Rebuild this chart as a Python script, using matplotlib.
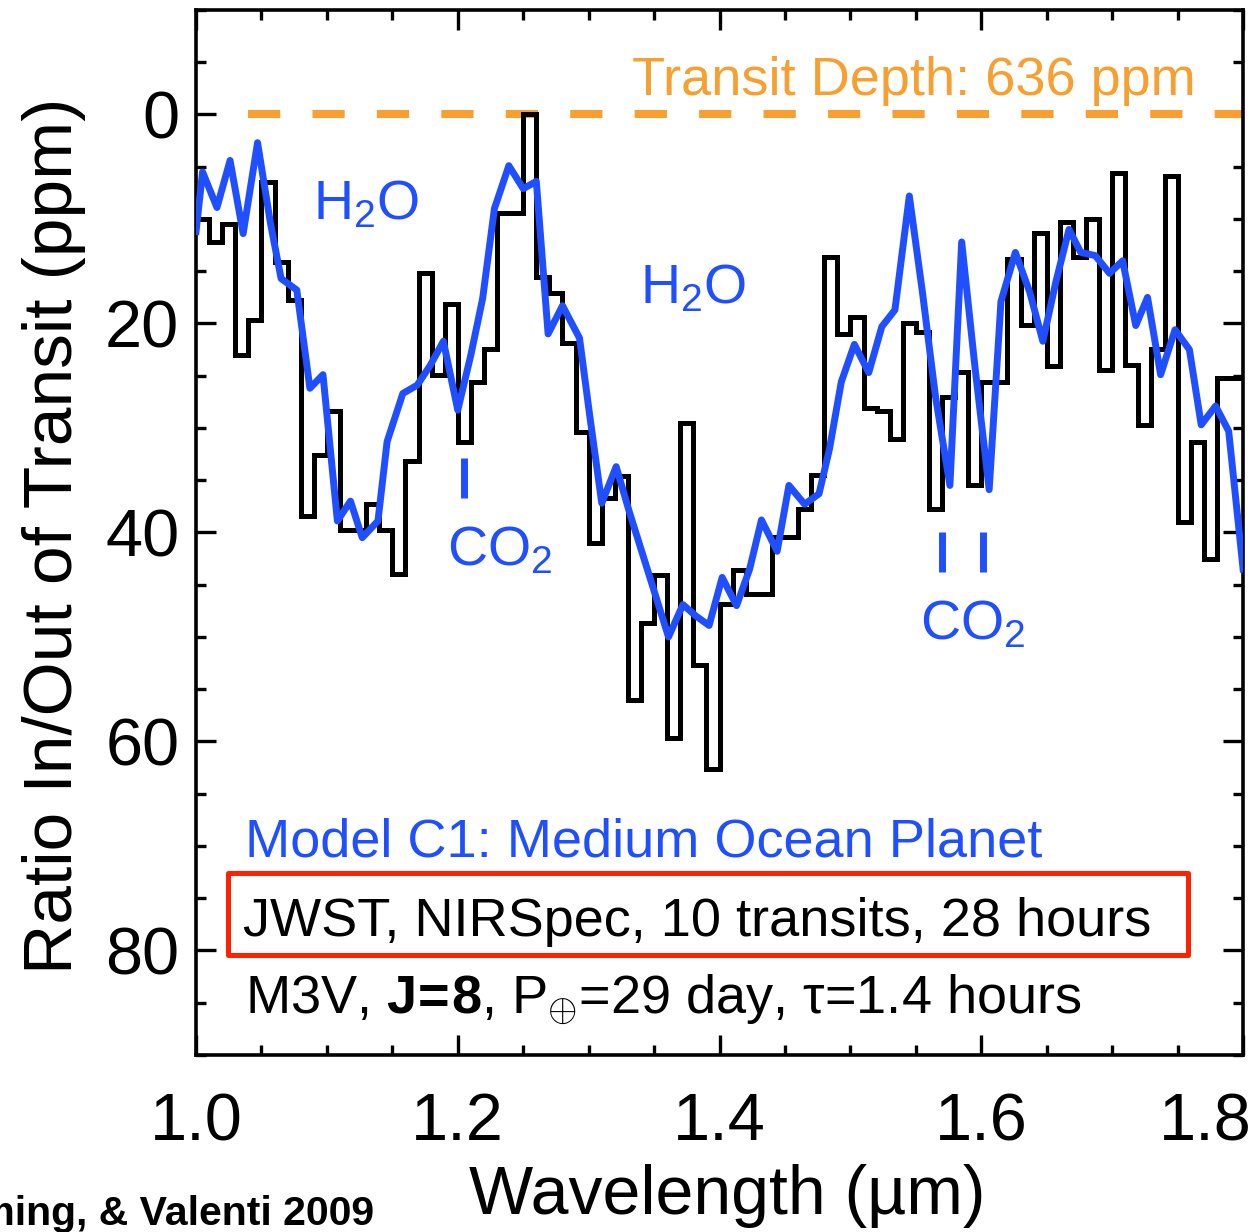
import numpy as np
import matplotlib.pyplot as plt
import matplotlib.transforms as mtransforms
from matplotlib.ticker import MultipleLocator
from matplotlib.patches import Rectangle

plt.rcParams['font.family'] = ['Liberation Sans', 'DejaVu Sans']
plt.rcParams['mathtext.fontset'] = 'custom'
plt.rcParams['mathtext.rm'] = 'Liberation Sans'
plt.rcParams['mathtext.it'] = 'Liberation Sans:italic'
plt.rcParams['mathtext.bf'] = 'Liberation Sans:bold'

# simulated NIRSpec spectrum, 0.01 um bins from 1.00 to 1.80 (ppm below transit depth)
bin_edges = np.round(np.arange(1.00, 1.8001, 0.01), 3)
obs_ppm = [10.0, 12.2, 10.5, 23.0, 19.7, 6.5, 14.1, 17.8, 38.4, 32.6,
           28.4, 39.8, 39.8, 37.3, 39.8, 44.0, 33.2, 15.2, 24.9, 18.1,
           31.3, 25.6, 22.4, 9.4, 9.4, 0.0, 15.6, 17.1, 21.9, 30.4,
           41.0, 36.7, 34.6, 56.0, 48.7, 44.1, 59.7, 29.5, 52.7, 62.6,
           46.8, 43.6, 45.9, 45.9, 40.4, 40.4, 37.8, 34.5, 13.6, 21.0,
           19.4, 28.1, 28.4, 31.1, 20.0, 20.8, 37.8, 27.0, 24.6, 35.5,
           25.6, 25.6, 13.8, 20.1, 11.3, 24.1, 10.3, 13.6, 10.0, 24.5,
           5.6, 24.0, 29.7, 22.4, 5.9, 39.0, 31.3, 42.5, 25.2, 25.2]

# model C1 (medium ocean planet)
model_wl = [1.000, 1.005, 1.016, 1.026, 1.036, 1.047, 1.057, 1.065, 1.077, 1.087,
            1.097, 1.108, 1.118, 1.127, 1.139, 1.146, 1.158, 1.169, 1.179, 1.189,
            1.200, 1.210, 1.219, 1.228, 1.239, 1.250, 1.260, 1.269, 1.280, 1.293,
            1.301, 1.310, 1.321, 1.331, 1.341, 1.351, 1.361, 1.372, 1.382, 1.392,
            1.402, 1.413, 1.423, 1.432, 1.444, 1.453, 1.465, 1.476, 1.484, 1.493,
            1.503, 1.514, 1.524, 1.534, 1.545, 1.555, 1.565, 1.576, 1.585, 1.595,
            1.606, 1.615, 1.626, 1.637, 1.647, 1.657, 1.667, 1.676, 1.687, 1.698,
            1.708, 1.718, 1.727, 1.737, 1.748, 1.759, 1.768, 1.779, 1.789, 1.800]
model_ppm = [11.2, 5.5, 8.9, 4.4, 11.4, 2.7, 10.5, 15.7, 16.8, 26.2,
             24.9, 38.9, 37.0, 40.5, 38.9, 31.3, 26.7, 25.9, 24.0, 21.7,
             28.3, 23.0, 17.6, 9.0, 4.9, 7.1, 6.4, 21.0, 18.3, 21.4,
             29.0, 37.2, 33.7, 38.0, 42.0, 46.0, 50.0, 46.9, 48.0, 48.9,
             44.3, 47.0, 43.5, 38.8, 41.8, 35.5, 37.3, 36.3, 32.0, 25.6,
             22.0, 24.7, 20.3, 18.7, 7.8, 17.0, 27.0, 35.5, 12.2, 24.0,
             35.9, 17.9, 13.2, 17.0, 21.7, 16.0, 11.0, 13.2, 13.5, 15.2,
             14.0, 20.2, 17.5, 24.9, 20.6, 22.5, 29.7, 27.9, 30.3, 43.5]

transit_depth = 636

# CO2 band markers
co2_wl = [1.205, 1.570, 1.601]
co2_top = [32.9, 40.0, 40.0]
co2_bot = [36.7, 43.8, 43.8]

blue = '#1F4FFF'
orange = '#F5A031'

fig = plt.figure(figsize=(12.55, 12.32), dpi=100)
ax = fig.add_axes([0.1562, 0.1437, 0.8343, 0.8482])

ax.axhline(0, xmin=0.05, color=orange, lw=5.8, linestyle=(0, (4, 4)), zorder=2)
ax.stairs(obs_ppm, bin_edges, baseline=None, color='black', lw=3.6, zorder=3)
ax.plot(model_wl, model_ppm, color=blue, lw=5, zorder=4)
ax.vlines(co2_wl, co2_top, co2_bot, color=blue, lw=5, zorder=4)

ax.set_xlim(1.0, 1.8)
ax.set_ylim(90, -10)

ax.xaxis.set_major_locator(MultipleLocator(0.2))
ax.xaxis.set_minor_locator(MultipleLocator(0.05))
ax.yaxis.set_major_locator(MultipleLocator(20))
ax.yaxis.set_minor_locator(MultipleLocator(5))
ax.xaxis.set_major_formatter(plt.FuncFormatter(lambda v, p: '%.1f' % v))
ax.tick_params(which='both', direction='in', top=True, right=True, width=2.4)
ax.tick_params(which='major', length=14.5)
ax.tick_params(which='minor', length=7.2)
ax.tick_params(axis='x', which='major', labelsize=48, pad=27)
ax.tick_params(axis='y', which='major', labelsize=48, pad=12)
for s in ax.spines.values():
    s.set_linewidth(2.6)

ax.set_xlabel('Wavelength (µm)', fontsize=49)
ax.set_ylabel('Ratio In/Out of Transit (ppm)', fontsize=50)
ax.xaxis.set_label_coords(0.507, -0.104)
ax.yaxis.set_label_coords(-0.105, 0.497)

ax.text(1.764, -1.9, 'Transit Depth: %d ppm' % transit_depth, color=orange,
        fontsize=39, ha='right', va='baseline')
ax.text(1.089, 10.0, 'H$_2$O', color=blue, fontsize=40, va='baseline')
ax.text(1.339, 18.1, 'H$_2$O', color=blue, fontsize=40, va='baseline')
ax.text(1.192, 43.1, 'CO$_2$', color=blue, fontsize=40, va='baseline')
ax.text(1.553, 50.2, 'CO$_2$', color=blue, fontsize=40, va='baseline')

ax.text(1.0375, 71.0, 'Model C1: Medium Ocean Planet', color=blue,
        fontsize=39, va='baseline')
ax.text(1.036, 78.6, 'JWST, NIRSpec, 10 transits, 28 hours', color='black',
        fontsize=39, va='baseline')
ax.text(1.0375, 86.0, r'M3V, $\mathbf{J\!=\!8}$, P$_{\oplus}$=29 day, τ=1.4 hours',
        color='black', fontsize=39, va='baseline')
ax.add_patch(Rectangle((1.0245, 72.6), 0.7335, 7.8, fill=False, edgecolor='#FF2200',
                       lw=3.6, joinstyle='round', clip_on=False, zorder=5))

fig.text(0.298, 0.0057, 'Seager, Deming, & Valenti 2009', fontsize=29.5,
         fontweight='bold', ha='right', va='baseline')

# pull the last x tick label inside the figure edge
fig.canvas.draw()
for tick in ax.xaxis.get_major_ticks():
    if abs(tick.get_loc() - 1.8) < 1e-6:
        lab = tick.label1
        lab.set_transform(lab.get_transform() +
                          mtransforms.ScaledTranslation(-0.38, 0, fig.dpi_scale_trans))

fig.savefig('out.png', dpi=100)
